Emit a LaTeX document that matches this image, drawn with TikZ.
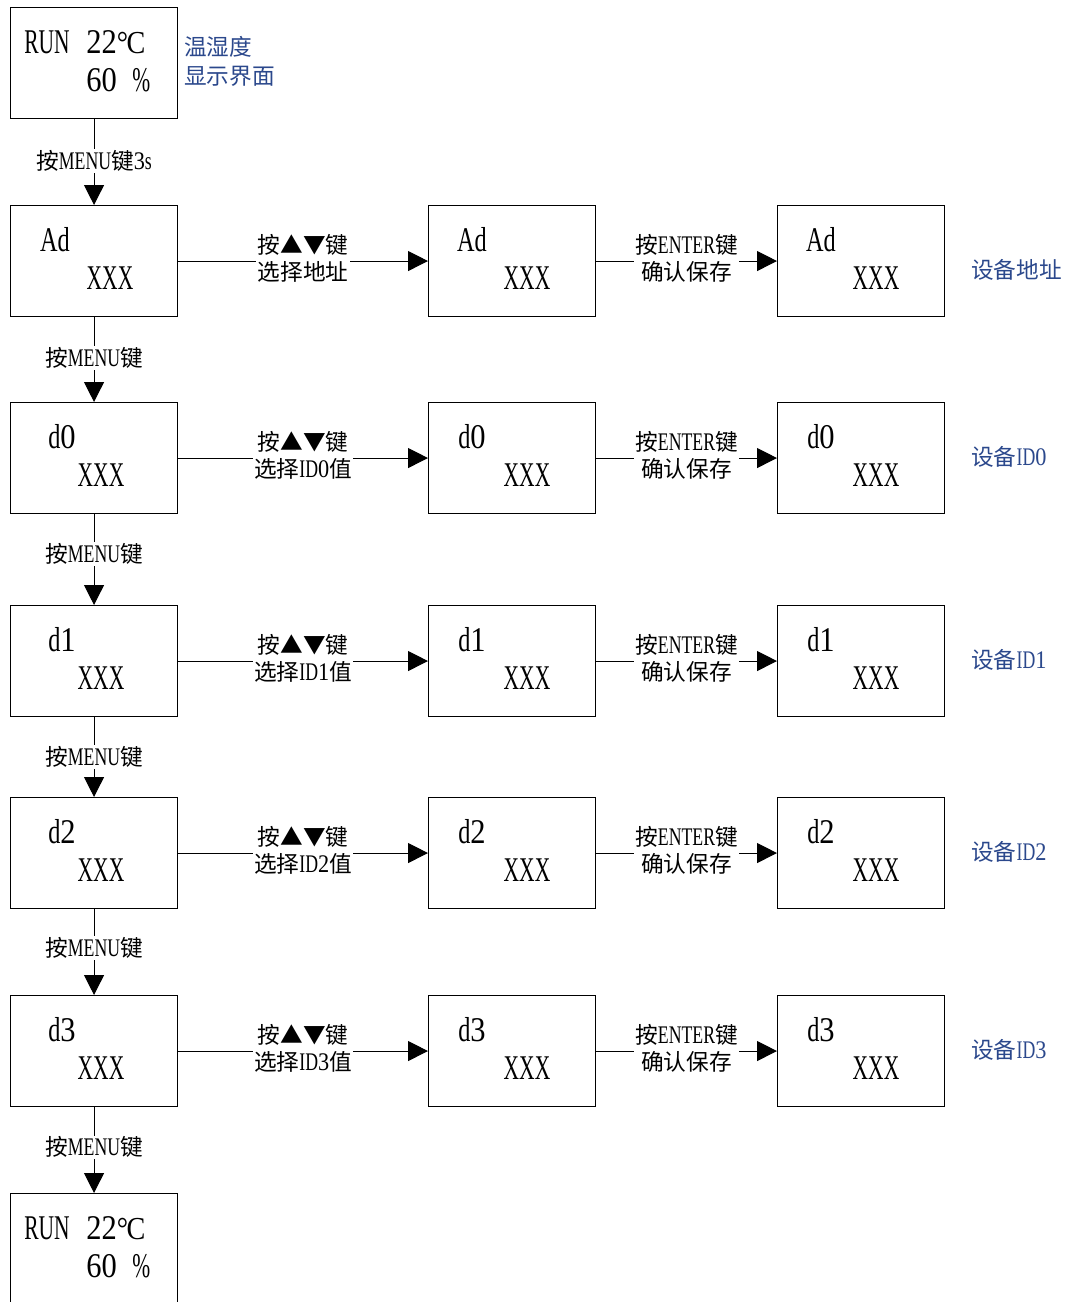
\documentclass[tikz,border=0pt]{standalone}
\usepackage{fontspec}
\setmainfont[FakeStretch=0.62]{Liberation Serif}
\newfontfamily\lat[FakeStretch=0.7]{Liberation Serif}
\newfontfamily\dig[FakeStretch=0.88]{Liberation Serif}
\newfontfamily\cjk{Noto Sans CJK SC}
\usetikzlibrary{arrows.meta}
\definecolor{lblue}{RGB}{43,72,140}
\newcommand\zh[1]{{\cjk\fontsize{17}{20}\selectfont #1}}
\newcommand\dg[1]{{\dig #1}}
\newcommand\lt[1]{{\lat #1}}
\newcommand\degc{{\dig\fontsize{24}{28}\selectfont °\kern-1pt C}}
\begin{document}
\begin{tikzpicture}[x=0.75pt,y=-0.75pt,
  screen/.style={draw, line width=0.8pt, minimum width=125.25pt, minimum height=83.25pt, inner sep=0pt, anchor=north west},
  bottomscreen/.style={draw, line width=0.8pt, minimum width=125.25pt, minimum height=90pt, inner sep=0pt, anchor=north west},
  big/.style={font=\fontsize{26}{28}\selectfont, inner sep=0pt},
  lab/.style={font=\lat\fontsize{19}{20}\selectfont, fill=white, inner sep=1pt, align=center},
  side/.style={font=\lat\fontsize{19}{21.75}\selectfont, text=lblue, inner sep=0pt, anchor=west, align=left},
  arr/.style={-{Triangle[length=15pt,width=15pt]}, line width=0.8pt}]
\useasboundingbox (0,0) rectangle (1067,1302);

% top screen
\node[screen] (top) at (10,7) {};
\node[big, anchor=west] (topR) at (24,42) {RUN};
\node[big, anchor=west] (topT) at (86,42) {\dg{22}\degc};
\node[big, anchor=west] (topH) at (86,80) {\dg{60}};
\node[big, anchor=west] (topP) at (132,80) {\%};
\node[side] (topL) at (184,61) {{\cjk\fontsize{17}{21.75}\selectfont 温湿度}\\{\cjk\fontsize{17}{21.75}\selectfont 显示界面}};

\foreach \i/\y/\sy/\t/\tx/\xx/\sel/\sd in {
  a/205/270/{\lt{Ad}}/55/110/{\zh{选择地址}}/{\zh{设备地址}},
  b/402/457/{\lt{d}\dg{0}}/62/101/{\zh{选择}ID\dg{0}\zh{值}}/{\zh{设备}ID\dg{0}},
  c/605/660/{\lt{d}\dg{1}}/62/101/{\zh{选择}ID\dg{1}\zh{值}}/{\zh{设备}ID\dg{1}},
  d/797/852/{\lt{d}\dg{2}}/62/101/{\zh{选择}ID\dg{2}\zh{值}}/{\zh{设备}ID\dg{2}},
  e/995/1050/{\lt{d}\dg{3}}/62/101/{\zh{选择}ID\dg{3}\zh{值}}/{\zh{设备}ID\dg{3}}}{
  \node[screen] (\i1) at (10,\y) {};
  \node[screen] (\i2) at (428,\y) {};
  \node[screen] (\i3) at (777,\y) {};
  \node[big] (\i1t) at (\tx,{\y+35}) {\t};
  \node[big] (\i1x) at (\xx,{\y+73}) {XXX};
  \node[big] (\i2t) at (472,{\y+35}) {\t};
  \node[big] (\i2x) at (527,{\y+73}) {XXX};
  \node[big] (\i3t) at (821,{\y+35}) {\t};
  \node[big] (\i3x) at (876,{\y+73}) {XXX};
  \node[side] (\i s) at (971,\sy) {\sd};
  \draw[arr] (\i1.east) -- node[lab, yshift=2pt] (\i l1) {\zh{按▲▼键}\\\sel} (\i2.west);
  \draw[arr] (\i2.east) -- node[lab, yshift=2pt] (\i l2) {\zh{按}ENTER\zh{键}\\\zh{确认保存}} (\i3.west);
}

% bottom screen
\node[bottomscreen] (bot) at (10,1193) {};
\node[big, anchor=west] (botR) at (24,1228) {RUN};
\node[big, anchor=west] (botT) at (86,1228) {\dg{22}\degc};
\node[big, anchor=west] (botH) at (86,1266) {\dg{60}};
\node[big, anchor=west] (botP) at (132,1266) {\%};

% vertical arrows
\draw[arr] (top.south) -- node[lab, yshift=1pt] (v0) {\zh{按}MENU\zh{键}\dg{3}s} (a1.north);
\draw[arr] (a1.south) -- node[lab, yshift=1pt] (v1) {\zh{按}MENU\zh{键}} (b1.north);
\draw[arr] (b1.south) -- node[lab, yshift=4pt] (v2) {\zh{按}MENU\zh{键}} (c1.north);
\draw[arr] (c1.south) -- node[lab] (v3) {\zh{按}MENU\zh{键}} (d1.north);
\draw[arr] (d1.south) -- node[lab, yshift=3pt] (v4) {\zh{按}MENU\zh{键}} (e1.north);
\draw[arr] (e1.south) -- node[lab, yshift=2pt] (v5) {\zh{按}MENU\zh{键}} (bot.north);
\end{tikzpicture}
\end{document}
